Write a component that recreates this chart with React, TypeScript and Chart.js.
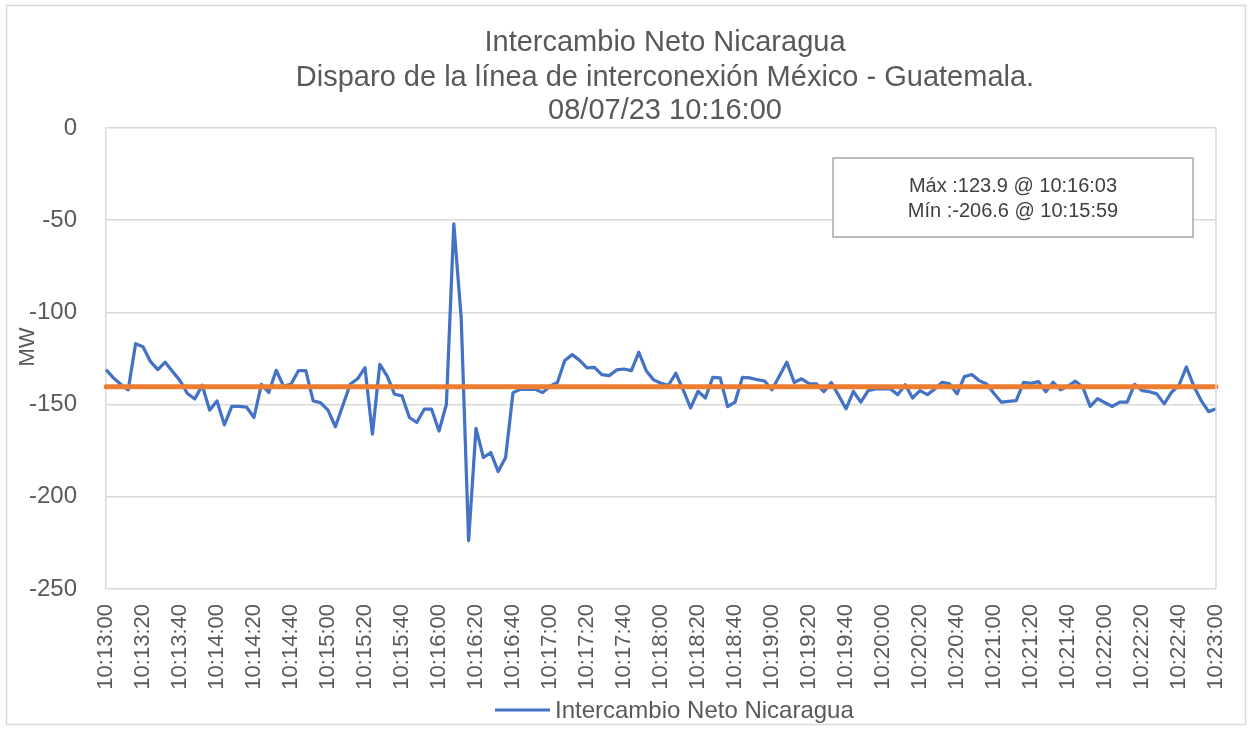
import { useEffect, useRef } from 'react';
import { Chart, registerables } from 'chart.js';

Chart.register(...registerables);

const FONT = "'Liberation Sans', Arial, sans-serif";

const titleLines = [
  'Intercambio Neto Nicaragua',
  'Disparo de la línea de interconexión México - Guatemala.',
  '08/07/23 10:16:00',
];
const seriesName = 'Intercambio Neto Nicaragua';
const yAxisTitle = 'MW';
const annotationLines = ['Máx :123.9 @ 10:16:03', 'Mín :-206.6 @ 10:15:59'];

const startSeconds = 10 * 3600 + 13 * 60; // 10:13:00
const stepSeconds = 4;

const tickLabels = [
  '10:13:00', '10:13:20', '10:13:40', '10:14:00', '10:14:20', '10:14:40',
  '10:15:00', '10:15:20', '10:15:40', '10:16:00', '10:16:20', '10:16:40',
  '10:17:00', '10:17:20', '10:17:40', '10:18:00', '10:18:20', '10:18:40',
  '10:19:00', '10:19:20', '10:19:40', '10:20:00', '10:20:20', '10:20:40',
  '10:21:00', '10:21:20', '10:21:40', '10:22:00', '10:22:20', '10:22:40',
  '10:23:00',
];

const netExchange = [
  -131, -135.5, -139, -142, -117, -118.6, -126.6, -131, -127, -132,
  -137, -144, -147, -139.5, -153, -148, -161, -151, -151, -151.4,
  -157, -139, -143.4, -131.4, -140, -139, -131.6, -131.6, -148, -149,
  -153, -162, -150.5, -139, -136, -130, -166, -128.2, -134.5, -144.4,
  -145.3, -157, -159.7, -152.5, -152.5, -164.3, -149.8, -52, -103, -223.8,
  -162.9, -178.7, -176, -186.3, -178.7, -143.5, -141.7, -141.7, -141.7, -143.5,
  -140, -138, -126.1, -122.9, -126, -130.1, -129.8, -133.7, -134.3, -131.2,
  -130.7, -131.6, -121.6, -131.6, -136.6, -138.4, -139.5, -133, -142, -151.8,
  -142.8, -146.4, -135.2, -135.5, -151.1, -148.7, -135.2, -135.5, -136.5, -137.2,
  -142, -134.5, -127, -138, -136, -138.6, -138.8, -143, -138, -145,
  -152.3, -142.8, -148.7, -142.4, -141.5, -141.5, -141.5, -144.6, -139.2, -146.4,
  -142.4, -144.6, -141.5, -137.9, -138.8, -144.2, -134.8, -133.7, -137, -138.8,
  -144, -148.7, -148.2, -147.8, -138, -138.5, -137.5, -143, -137.9, -142,
  -140, -137.3, -140.6, -151, -146.8, -149, -151, -148.7, -148.7, -139,
  -142.4, -143, -144.2, -149.6, -143.3, -139.5, -129.6, -140, -147.8, -153.8,
  -152.3,
];

const referenceLevel = -140.3;

const yMin = -250;
const yMax = 0;
const yStep = 50;

const pad2 = (n: number) => String(n).padStart(2, '0');
const timeLabel = (s: number) =>
  `${Math.floor(s / 3600)}:${pad2(Math.floor((s % 3600) / 60))}:${pad2(s % 60)}`;

const categories = netExchange.map((_, i) => timeLabel(startSeconds + i * stepSeconds));
const referenceSeries = categories.map(() => referenceLevel);

const BLUE = '#4472C4';
const ORANGE = '#ED7D31';
const GRID = '#d9d9d9';
const TEXT = '#595959';

const decorPlugin = {
  id: 'decor',
  beforeDraw(chart: any) {
    const ctx = chart.ctx;
    ctx.save();
    ctx.fillStyle = '#ffffff';
    ctx.fillRect(0, 0, chart.width, chart.height);
    ctx.strokeStyle = GRID;
    ctx.lineWidth = 1.5;
    ctx.strokeRect(6.5, 5.5, chart.width - 13, chart.height - 10);
    ctx.restore();
  },
  afterDraw(chart: any) {
    const ctx = chart.ctx;
    const area = chart.chartArea;
    ctx.save();

    // right plot border
    ctx.strokeStyle = GRID;
    ctx.lineWidth = 1.5;
    ctx.beginPath();
    ctx.moveTo(area.right, area.top);
    ctx.lineTo(area.right, area.bottom);
    ctx.stroke();

    // titles
    ctx.fillStyle = TEXT;
    ctx.textAlign = 'center';
    ctx.textBaseline = 'middle';
    ctx.font = `29px ${FONT}`;
    const titleY = [43, 78, 111];
    titleLines.forEach((t, i) => ctx.fillText(t, 665, titleY[i]));

    // y axis title
    ctx.save();
    ctx.translate(28, 347);
    ctx.rotate(-Math.PI / 2);
    ctx.font = `22px ${FONT}`;
    ctx.fillText(yAxisTitle, 0, 0);
    ctx.restore();

    // legend
    ctx.strokeStyle = BLUE;
    ctx.lineWidth = 3;
    ctx.beginPath();
    ctx.moveTo(495, 710);
    ctx.lineTo(550, 710);
    ctx.stroke();
    ctx.textAlign = 'left';
    ctx.font = `24px ${FONT}`;
    ctx.fillStyle = TEXT;
    ctx.fillText(seriesName, 555, 711);

    // annotation box
    ctx.fillStyle = '#ffffff';
    ctx.fillRect(833, 158, 360, 79);
    ctx.strokeStyle = '#a6a6a6';
    ctx.lineWidth = 1.5;
    ctx.strokeRect(833, 158, 360, 79);
    ctx.fillStyle = '#404040';
    ctx.textAlign = 'center';
    ctx.font = `20px ${FONT}`;
    ctx.fillText(annotationLines[0], 1013, 186);
    ctx.fillText(annotationLines[1], 1013, 211);

    ctx.restore();
  },
};

export default function App() {
  const ref = useRef<HTMLCanvasElement | null>(null);

  useEffect(() => {
    document.body.style.margin = '0';
    const canvas = ref.current;
    if (!canvas) return;
    const tickSet = new Set(tickLabels);
    const chart = new Chart(canvas, {
      type: 'line',
      data: {
        labels: categories,
        datasets: [
          {
            label: 'Referencia',
            data: referenceSeries,
            borderColor: ORANGE,
            borderWidth: 5,
            borderCapStyle: 'round',
            pointRadius: 0,
            tension: 0,
            order: 1,
          },
          {
            label: seriesName,
            data: netExchange,
            borderColor: BLUE,
            borderWidth: 3.25,
            borderJoinStyle: 'round',
            pointRadius: 0,
            tension: 0,
            order: 2,
          },
        ],
      },
      options: {
        responsive: false,
        animation: false,
        devicePixelRatio: 1,
        layout: { padding: { top: 128, right: 36, bottom: 30, left: 0 } },
        plugins: {
          legend: { display: false },
          title: { display: false },
          tooltip: { enabled: false },
        },
        scales: {
          x: {
            type: 'category',
            offset: false,
            grid: { display: false, drawTicks: false },
            border: { display: false },
            ticks: {
              autoSkip: false,
              maxRotation: 90,
              minRotation: 90,
              padding: 15,
              color: TEXT,
              font: { family: FONT, size: 22 },
              callback: (_v: any, i: number) => (tickSet.has(categories[i]) ? categories[i] : null),
            },
            afterFit: (scale: any) => {
              scale.height = 110;
              scale.paddingLeft = 0;
              scale.paddingRight = 0;
            },
          },
          y: {
            min: yMin,
            max: yMax,
            grid: { color: GRID, lineWidth: 1.5, drawTicks: false },
            border: { display: true, color: GRID, width: 1.5 },
            ticks: {
              stepSize: yStep,
              padding: 29,
              color: TEXT,
              font: { family: FONT, size: 24 },
            },
            afterFit: (scale: any) => {
              scale.width = 106;
              scale.paddingTop = 0;
              scale.paddingBottom = 0;
            },
          },
        },
      },
      plugins: [decorPlugin],
    } as any);
    return () => chart.destroy();
  }, []);

  return (
    <canvas
      ref={ref}
      width={1252}
      height={729}
      style={{ display: 'block', width: 1252, height: 729 }}
    />
  );
}
